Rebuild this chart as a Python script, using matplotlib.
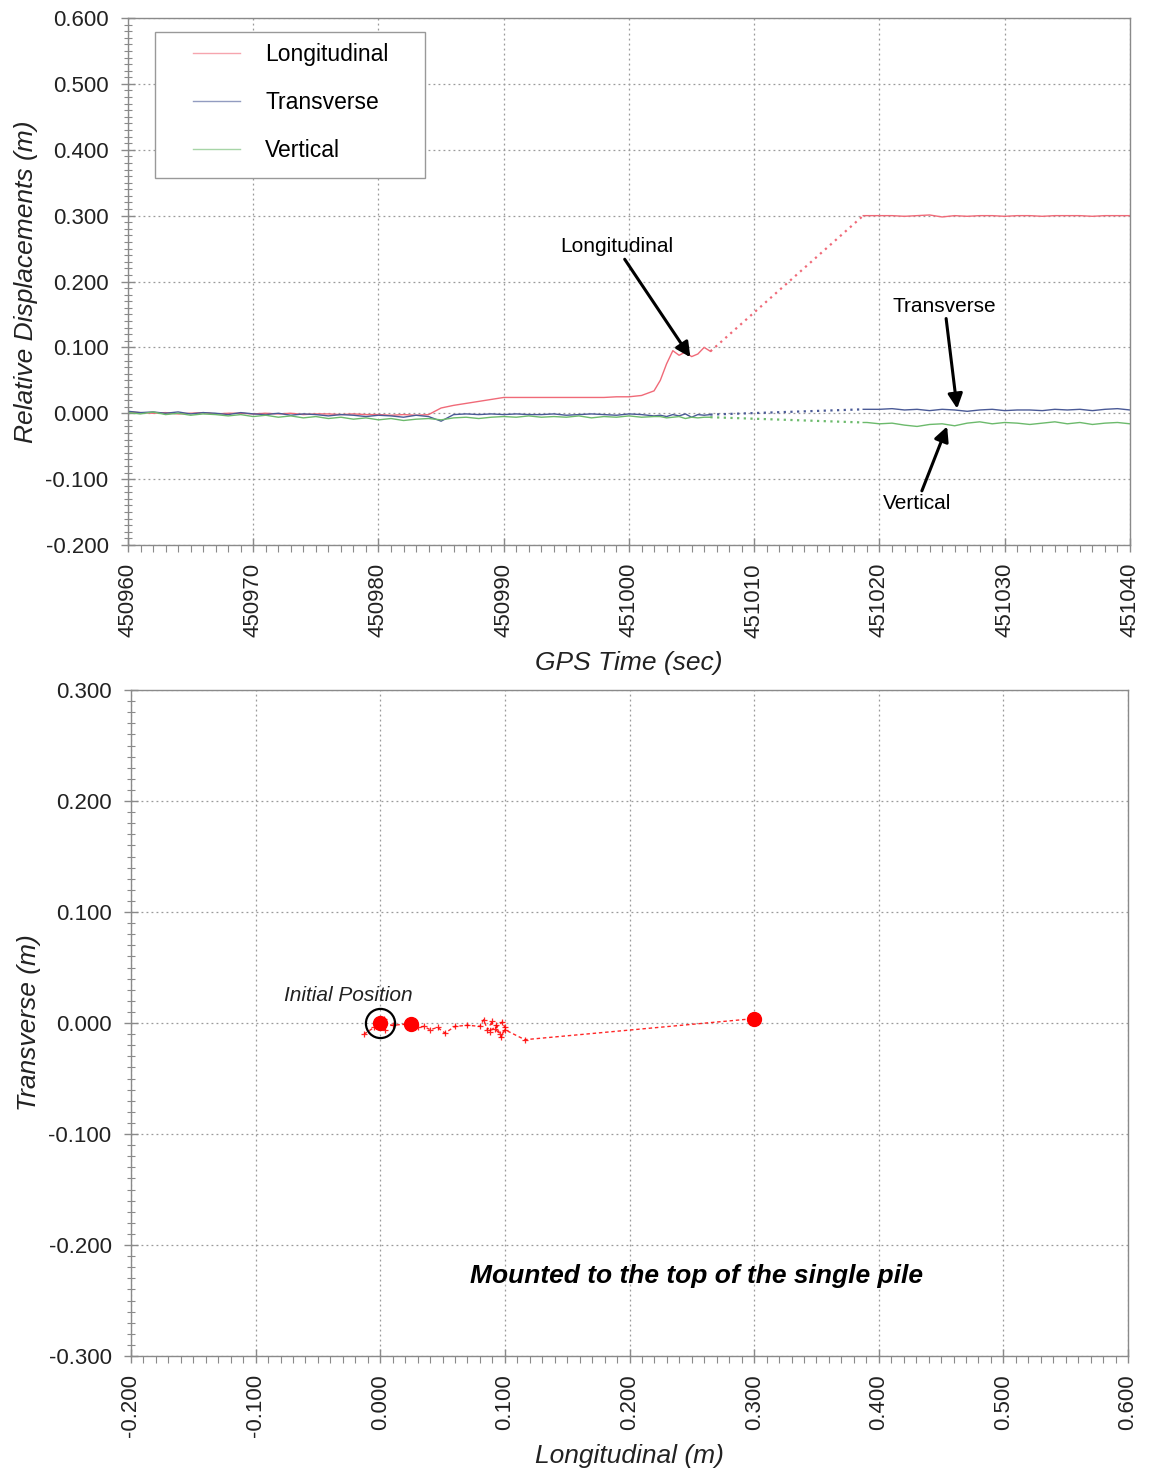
import numpy as np
import matplotlib
matplotlib.use("Agg")
import matplotlib.pyplot as plt
from matplotlib.patches import Rectangle
from matplotlib.ticker import MultipleLocator, FormatStrFormatter

plt.rcParams['font.family'] = ['Liberation Sans', 'DejaVu Sans']

# ---------------- data: top chart (GPS time series) ----------------
time_a = list(range(450960, 451003)) + [451002.5, 451003, 451003.5, 451004, 451004.5,
                                        451005, 451005.5, 451006, 451006.5]
long_a = [0.002, 0.001, 0.000, 0.001, -0.001, 0.000, 0.001, -0.001, 0.000, 0.000,
          -0.001, 0.000, -0.001, 0.000, -0.002, -0.001, -0.001, -0.002, -0.001, -0.002,
          -0.002, -0.003, -0.002, -0.003, -0.002, 0.008, 0.012, 0.015, 0.018, 0.021,
          0.024, 0.024, 0.024, 0.024, 0.024, 0.024, 0.024, 0.024, 0.024, 0.025,
          0.025, 0.027, 0.034,
          0.050, 0.075, 0.095, 0.088, 0.093, 0.086, 0.090, 0.100, 0.094]
trans_a = [0.003, 0.001, 0.002, 0.000, 0.002, -0.001, 0.001, 0.000, -0.002, 0.001,
           -0.001, -0.002, 0.000, -0.003, -0.001, -0.002, -0.004, -0.002, -0.003, -0.005,
           -0.003, -0.004, -0.006, -0.003, -0.005, -0.012, -0.002, -0.001, -0.002, -0.001,
           -0.002, -0.001, -0.002, -0.002, -0.001, -0.003, -0.002, -0.001, -0.002, -0.003,
           -0.001, -0.002, -0.004,
           -0.003, -0.005, -0.002, -0.004, -0.001, -0.006, -0.002, -0.003, -0.002]
vert_a = [0.001, -0.001, 0.002, -0.002, 0.000, -0.003, -0.001, -0.002, -0.004, -0.002,
          -0.005, -0.003, -0.006, -0.004, -0.007, -0.005, -0.008, -0.006, -0.009, -0.007,
          -0.010, -0.008, -0.011, -0.009, -0.008, -0.010, -0.007, -0.006, -0.008, -0.006,
          -0.005, -0.006, -0.004, -0.006, -0.005, -0.006, -0.004, -0.007, -0.005, -0.006,
          -0.004, -0.006, -0.005,
          -0.005, -0.007, -0.006, -0.005, -0.008, -0.006, -0.007, -0.006, -0.006]

# gap (sparse, dotted) segment end values
gap_end_time = 451018.7
long_gap_end = 0.300
trans_gap_end = 0.006
vert_gap_end = -0.014

time_c = list(range(451019, 451041))
long_c = [0.300, 0.300, 0.300, 0.299, 0.300, 0.301, 0.298, 0.300, 0.299, 0.300, 0.300,
          0.299, 0.300, 0.300, 0.299, 0.300, 0.300, 0.300, 0.299, 0.300, 0.300, 0.300]
trans_c = [0.006, 0.006, 0.007, 0.005, 0.006, 0.004, 0.006, 0.005, 0.003, 0.005, 0.006,
           0.004, 0.005, 0.005, 0.004, 0.006, 0.005, 0.006, 0.004, 0.006, 0.007, 0.005]
vert_c = [-0.014, -0.016, -0.015, -0.018, -0.020, -0.017, -0.016, -0.019, -0.015, -0.013,
          -0.016, -0.014, -0.015, -0.017, -0.015, -0.013, -0.016, -0.014, -0.017, -0.015,
          -0.014, -0.016]

# ---------------- data: bottom chart (plan trajectory) ----------------
plan_long = [-0.013, -0.005, 0.003, -0.002, 0.004, 0.000, 0.010, 0.020, 0.025, 0.030,
             0.035, 0.040, 0.046, 0.052, 0.060, 0.070, 0.080, 0.083, 0.086, 0.090,
             0.088, 0.093, 0.096, 0.092, 0.098, 0.100, 0.097, 0.100, 0.116, 0.300]
plan_trans = [-0.010, -0.004, 0.004, 0.003, -0.006, 0.000, -0.002, -0.001, -0.002, -0.004,
              -0.003, -0.006, -0.004, -0.009, -0.003, -0.002, -0.003, 0.003, -0.006, 0.002,
              -0.008, -0.002, -0.010, -0.005, 0.001, -0.004, -0.013, -0.006, -0.015, 0.004]
stay_long = [0.000, 0.025, 0.300]
stay_trans = [0.000, -0.001, 0.004]

C_LONG = '#f06a78'
C_TRANS = '#4a5a96'
C_VERT = '#6cba6c'
GRID = '#9a9a9a'
SPINE = '#8a8a8a'

fig = plt.figure(figsize=(11.5, 14.77), dpi=100)
ax1 = fig.add_axes([0.1113, 0.631, 0.8713, 0.3568])
ax2 = fig.add_axes([0.1139, 0.0819, 0.8670, 0.4509])


def style_axes(ax):
    for s in ax.spines.values():
        s.set_color(SPINE)
        s.set_linewidth(1.0)
    ax.grid(True, which='major', color=GRID, linestyle=(0, (1.5, 2.5)), linewidth=0.9)
    ax.tick_params(which='major', direction='inout', length=10, width=1, color=SPINE,
                   labelsize=16, labelcolor='#222222')
    ax.tick_params(which='minor', direction='inout', length=6, width=0.8, color=SPINE)
    ax.tick_params(axis='x', which='minor', direction='out', length=5)
    ax.tick_params(axis='x', which='major', labelrotation=90, pad=8)
    ax.tick_params(axis='y', which='major', pad=9)
    ax.set_axisbelow(True)


# ---------- top chart ----------
series = [(long_a, long_gap_end, long_c, C_LONG, 'Longitudinal'),
          (trans_a, trans_gap_end, trans_c, C_TRANS, 'Transverse'),
          (vert_a, vert_gap_end, vert_c, C_VERT, 'Vertical')]
for a, gend, c, col, lab in series:
    ax1.plot(time_a, a, color=col, lw=1.0, label=lab)
    ax1.plot([time_a[-1], gap_end_time], [a[-1], gend], color=col, lw=1.6,
             linestyle=(0, (1, 2)))
    ax1.plot([gap_end_time] + time_c, [gend] + c, color=col, lw=1.0)

ax1.set_xlim(450960, 451040)
ax1.set_ylim(-0.2, 0.6)
ax1.xaxis.set_major_locator(MultipleLocator(10))
ax1.xaxis.set_minor_locator(MultipleLocator(1))
ax1.yaxis.set_major_locator(MultipleLocator(0.1))
ax1.yaxis.set_minor_locator(MultipleLocator(0.01))
ax1.yaxis.set_major_formatter(FormatStrFormatter('%.3f'))
ax1.xaxis.set_major_formatter(FormatStrFormatter('%d'))
style_axes(ax1)
ax1.set_xlabel('GPS Time (sec)', fontsize=19, style='italic', color='#222222', labelpad=10)
ax1.set_ylabel('Relative Displacements (m)', fontsize=19, style='italic', color='#222222',
               labelpad=5)

# legend box (frame drawn separately to get its wide side margins)
ax1.add_patch(Rectangle((0.027, 0.6964), 0.2694, 0.277, transform=ax1.transAxes,
                        facecolor='white', edgecolor='#999999', lw=1.0, zorder=4))
leg = ax1.legend(loc='upper left', bbox_to_anchor=(0.065, 0.952), fontsize=16.5,
                 handlelength=2.05, handletextpad=1.1, labelspacing=1.08,
                 borderpad=0, borderaxespad=0, frameon=False)
leg.set_zorder(5)
for lh in leg.get_lines():
    lh.set_alpha(0.6)

arrow = dict(arrowstyle='-|>', lw=2.2, color='black', mutation_scale=22,
             shrinkA=0, shrinkB=0)
ax1.annotate('Longitudinal', xy=(451004.9, 0.085), xytext=(450999.0, 0.238),
             fontsize=15, ha='center', va='bottom', arrowprops=arrow)
ax1.annotate('Transverse', xy=(451026.2, 0.007), xytext=(451025.2, 0.148),
             fontsize=15, ha='center', va='bottom', arrowprops=arrow)
ax1.annotate('Vertical', xy=(451025.4, -0.020), xytext=(451023.0, -0.122),
             fontsize=15, ha='center', va='top', arrowprops=arrow)

# ---------- bottom chart ----------
ax2.plot(plan_long, plan_trans, color='red', lw=1.0, linestyle=(0, (2.5, 2)),
         marker='+', ms=5, mew=0.9, alpha=0.85)
ax2.plot(stay_long, stay_trans, linestyle='none', marker='o', ms=10, color='red',
         mec='red')
ax2.plot(stay_long[:1], stay_trans[:1], linestyle='none', marker='o', ms=21,
         mfc='none', mec='black', mew=1.6)

ax2.set_xlim(-0.2, 0.6)
ax2.set_ylim(-0.3, 0.3)
ax2.xaxis.set_major_locator(MultipleLocator(0.1))
ax2.xaxis.set_minor_locator(MultipleLocator(0.01))
ax2.yaxis.set_major_locator(MultipleLocator(0.1))
ax2.yaxis.set_minor_locator(MultipleLocator(0.01))
ax2.xaxis.set_major_formatter(FormatStrFormatter('%.3f'))
ax2.yaxis.set_major_formatter(FormatStrFormatter('%.3f'))
style_axes(ax2)
ax2.set_xlabel('Longitudinal (m)', fontsize=19, style='italic', color='#222222', labelpad=5)
ax2.set_ylabel('Transverse (m)', fontsize=19, style='italic', color='#222222', labelpad=5)

ax2.text(-0.026, 0.016, 'Initial Position', fontsize=15, style='italic', ha='center',
         va='bottom', color='#222222')
ax2.text(0.254, -0.228, 'Mounted to the top of the single pile', fontsize=19,
         style='italic', weight='bold', ha='center', va='center', color='black')

fig.savefig('out.png', dpi=100, facecolor='white')
